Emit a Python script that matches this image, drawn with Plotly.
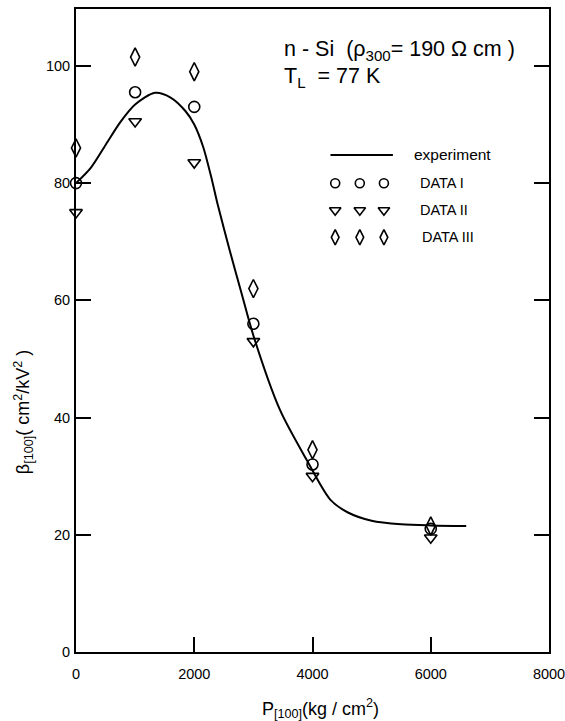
import plotly.graph_objects as go

# ---- data ----
pressure = [0, 1000, 2000, 3000, 4000, 6000]
data_I = [80, 95.5, 93, 56, 32, 21]
data_II = [75, 90.5, 83.5, 53, 30, 19.5]
data_III = [86, 101.5, 99, 62, 34.5, 21.5]

exp_p = [0, 250, 500, 750, 1000, 1336, 1600, 1850, 2000, 2150, 2300, 2400, 2600,
         2800, 3000, 3450, 3900, 4300, 4600, 5000, 5500, 6000, 6600]
exp_beta = [80, 82.6, 86.5, 90.4, 93.4, 95.4, 94.6, 92.3, 90.0, 86.2, 80.5, 76.2, 68.5,
            61.2, 54, 41.3, 32.8, 26, 23.8, 22.4, 21.8, 21.6, 21.5]

x_ticks = [0, 2000, 4000, 6000, 8000]
y_ticks = [0, 20, 40, 60, 80, 100]

legend_labels = ["experiment", "DATA I", "DATA II", "DATA III"]

FONT = "Liberation Sans"
BLACK = "black"

fig = go.Figure()

fig.add_trace(go.Scatter(x=exp_p, y=exp_beta, mode="lines",
                         line=dict(color=BLACK, width=2, shape="spline", smoothing=0.8),
                         showlegend=False, cliponaxis=False))
fig.add_trace(go.Scatter(x=pressure, y=data_I, mode="markers",
                         marker=dict(symbol="circle-open", size=11, color=BLACK, line=dict(width=1.6)),
                         showlegend=False, cliponaxis=False))
fig.add_trace(go.Scatter(x=pressure, y=data_II, mode="markers",
                         marker=dict(symbol="triangle-down-open", size=11, color=BLACK, line=dict(width=1.6)),
                         showlegend=False, cliponaxis=False))
fig.add_trace(go.Scatter(x=pressure, y=data_III, mode="markers",
                         marker=dict(symbol="diamond-tall-open", size=13, color=BLACK, line=dict(width=1.6)),
                         showlegend=False, cliponaxis=False))

# ---- hand-drawn style legend on an overlay axis (fractions of plot area) ----
lx = [0.548, 0.600, 0.651]
row_y = [0.773, 0.729, 0.687, 0.645]
fig.add_trace(go.Scatter(x=[0.538, 0.670], y=[row_y[0]] * 2, mode="lines",
                         line=dict(color=BLACK, width=2), xaxis="x2", yaxis="y2",
                         showlegend=False, hoverinfo="skip"))
for sym, size, ry in [("circle-open", 9, row_y[1]),
                      ("triangle-down-open", 10, row_y[2]),
                      ("diamond-tall-open", 11, row_y[3])]:
    fig.add_trace(go.Scatter(x=lx, y=[ry] * 3, mode="markers",
                             marker=dict(symbol=sym, size=size, color=BLACK, line=dict(width=1.6)),
                             xaxis="x2", yaxis="y2", showlegend=False, hoverinfo="skip"))
text_x = [0.71, 0.723, 0.723, 0.727]
text_size = [15.5, 14.5, 14.5, 14.5]
for lab, tx, ry, ts in zip(legend_labels, text_x, row_y, text_size):
    fig.add_annotation(x=tx, y=ry, xref="x2", yref="y2", text=lab, showarrow=False,
                       xanchor="left", yanchor="middle",
                       font=dict(family=FONT, size=ts, color=BLACK))

axis_common = dict(showgrid=False, zeroline=False, showline=True, linecolor=BLACK,
                   linewidth=2, ticks="inside", ticklen=15, tickwidth=2, tickcolor=BLACK,
                   tickfont=dict(family=FONT, size=14.5, color=BLACK),
                   ticklabeloverflow="allow", automargin=False)

fig.update_layout(
    width=565, height=721, autosize=False,
    margin=dict(l=76, r=16, t=9, b=69, autoexpand=False),
    paper_bgcolor="white", plot_bgcolor="white",
    hovermode=False,
    xaxis=dict(range=[0, 8000], tickvals=x_ticks, ticktext=[str(v) for v in x_ticks],
               mirror=True, ticklabelstandoff=8, **axis_common),
    yaxis=dict(range=[0, 109.7], tickvals=y_ticks, ticktext=[str(v) for v in y_ticks],
               mirror="ticks", ticklabelstandoff=1, **axis_common),
    xaxis2=dict(overlaying="x", range=[0, 1], visible=False),
    yaxis2=dict(overlaying="y", range=[0, 1], visible=False),
)

fig.add_annotation(x=0.436, y=0.936, xref="x2", yref="y2", xanchor="left", yanchor="middle",
                   text="n - Si  (ρ<sub>300</sub>= 190 Ω cm )", showarrow=False,
                   font=dict(family=FONT, size=21.5, color=BLACK))
fig.add_annotation(x=0.436, y=0.894, xref="x2", yref="y2", xanchor="left", yanchor="middle",
                   text="T<sub>L</sub>  = 77 K", showarrow=False,
                   font=dict(family=FONT, size=21.5, color=BLACK))

# axis titles
fig.add_annotation(x=-0.112, y=0.373, xref="paper", yref="paper", textangle=-90,
                   xanchor="center", yanchor="middle",
                   text="β<sub>[100]</sub>( cm<sup>2</sup>/kV<sup>2</sup> )", showarrow=False,
                   font=dict(family=FONT, size=18, color=BLACK))
fig.add_annotation(x=0.516, y=-0.0886, xref="paper", yref="paper",
                   xanchor="center", yanchor="middle",
                   text="P<sub>[100]</sub>(kg / cm<sup>2</sup>)", showarrow=False,
                   font=dict(family=FONT, size=18, color=BLACK))

# remove the browser's default 8px body margin so the figure fills the window exactly
fig.write_html("out.html",
               config={"displayModeBar": False, "responsive": False, "staticPlot": True},
               post_script="document.body.style.margin='0px';")
